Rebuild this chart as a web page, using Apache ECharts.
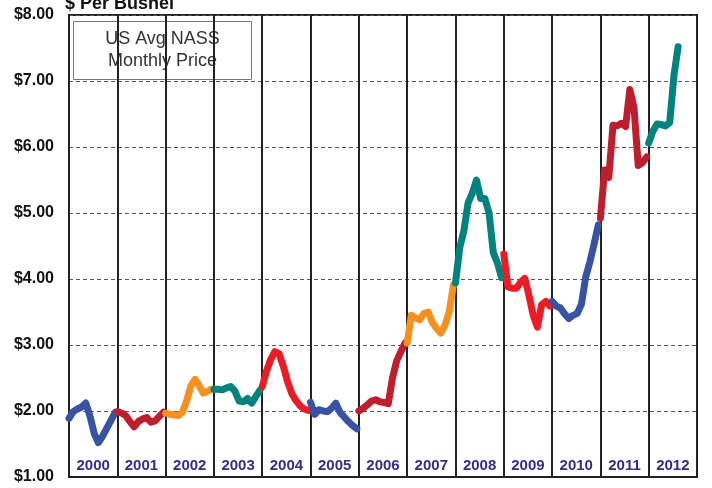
<!DOCTYPE html>
<html>
<head>
<meta charset="utf-8">
<title>US Avg NASS Monthly Price</title>
<script src="https://cdn.jsdelivr.net/npm/echarts@6/dist/echarts.min.js"></script>
<style>
  html, body { margin: 0; padding: 0; background: #fff; }
  #chart { width: 712px; height: 488px; }
</style>
</head>
<body>
<div id="chart"></div>
<script>
// years shown along the bottom, one column each
const years = ['2000', '2001', '2002', '2003', '2004', '2005', '2006',
  '2007', '2008', '2009', '2010', '2011', '2012'];

// monthly price, $ per bushel
const price2000 = [1.89, 1.99, 2.03, 2.06, 2.12, 1.92, 1.66, 1.52, 1.62, 1.74, 1.86, 1.98];
const price2001 = [1.99, 1.97, 1.93, 1.84, 1.76, 1.84, 1.88, 1.90, 1.83, 1.85, 1.92, 1.98];
const price2002 = [1.97, 1.95, 1.94, 1.93, 1.98, 2.15, 2.38, 2.48, 2.38, 2.27, 2.30, 2.33];
const price2003 = [2.33, 2.33, 2.32, 2.35, 2.37, 2.30, 2.15, 2.14, 2.19, 2.12, 2.22, 2.32];
const price2004 = [2.37, 2.60, 2.78, 2.90, 2.87, 2.68, 2.45, 2.27, 2.16, 2.08, 2.03, 2.01];
const price2005 = [2.13, 1.95, 2.02, 2.00, 1.99, 2.04, 2.12, 1.98, 1.91, 1.84, 1.78, 1.73];
const price2006 = [2.00, 2.04, 2.09, 2.15, 2.17, 2.14, 2.13, 2.11, 2.50, 2.76, 2.90, 3.03];
const price2007 = [3.03, 3.45, 3.41, 3.38, 3.48, 3.50, 3.34, 3.25, 3.18, 3.30, 3.50, 3.91];
const price2008 = [3.94, 4.47, 4.73, 5.15, 5.30, 5.50, 5.22, 5.22, 5.00, 4.40, 4.24, 4.02];
const price2009 = [4.38, 3.88, 3.86, 3.86, 3.95, 4.01, 3.75, 3.45, 3.27, 3.61, 3.66, 3.59];
const price2010 = [3.66, 3.59, 3.56, 3.47, 3.40, 3.45, 3.48, 3.62, 4.03, 4.26, 4.53, 4.82];
const price2011 = [4.92, 5.65, 5.54, 6.33, 6.32, 6.36, 6.31, 6.87, 6.60, 5.72, 5.76, 5.85];
const price2012 = [6.06, 6.24, 6.35, 6.34, 6.32, 6.37, 7.08, 7.52];

const yearPrices = [price2000, price2001, price2002, price2003, price2004, price2005, price2006,
  price2007, price2008, price2009, price2010, price2011, price2012];

const blue = '#3953a4';
const darkRed = '#be1e2d';
const orange = '#f7901e';
const teal = '#00827e';
const red = '#ed1c24';
const yearColors = [blue, darkRed, orange, teal, red, blue, darkRed, orange, teal, red, blue, darkRed, teal];

// month position inside a year column (12 months on the value axis per year)
const monthStep = 1.044;

const chart = echarts.init(document.getElementById('chart'));

const series = years.map((year, i) => ({
  name: year,
  type: 'line',
  xAxisIndex: 1,
  showSymbol: false,
  animation: false,
  data: yearPrices[i].map((p, m) => [i * 12 + m * monthStep, p]),
  lineStyle: { color: yearColors[i], width: 7, cap: 'round', join: 'round' },
  itemStyle: { color: yearColors[i] },
  z: 5,
}));

const option = {
  animation: false,
  grid: {
    left: 69,
    right: 15,
    top: 15,
    bottom: 11,
    show: true,
    borderColor: '#222',
    borderWidth: 2,
    backgroundColor: '#fff',
  },
  xAxis: [
    {
      type: 'category',
      data: years,
      boundaryGap: true,
      axisLine: { show: true, lineStyle: { color: '#222', width: 2 } },
      axisTick: { show: false },
      axisLabel: {
        inside: true,
        margin: 4,
        interval: 0,
        color: '#2e3186',
        fontFamily: 'Liberation Sans',
        fontWeight: 'bold',
        fontSize: 15,
      },
      splitLine: { show: true, interval: 0, lineStyle: { color: '#222', width: 2 } },
      z: 3,
    },
    {
      type: 'value',
      min: 0,
      max: 156,
      show: false,
    },
  ],
  yAxis: {
    type: 'value',
    min: 1,
    max: 8,
    interval: 1,
    axisLine: { show: false },
    axisTick: { show: false },
    axisLabel: {
      margin: 15,
      color: '#111',
      fontFamily: 'Liberation Sans',
      fontWeight: 'bold',
      fontSize: 16,
      formatter: (v) => '$' + v.toFixed(2),
    },
    splitLine: { show: true, lineStyle: { color: '#555', width: 1, type: [4, 3] } },
  },
  graphic: [
    {
      type: 'text',
      left: 65,
      top: -5,
      style: {
        text: '$ Per Bushel',
        fill: '#111',
        font: 'bold 18px "Liberation Sans"',
      },
    },
    {
      type: 'group',
      left: 73,
      top: 21,
      z: 10,
      children: [
        {
          type: 'rect',
          shape: { x: 0, y: 0, width: 178, height: 58 },
          style: { fill: '#fff', stroke: '#777', lineWidth: 1 },
        },
        {
          type: 'text',
          x: 89,
          y: 29,
          style: {
            text: 'US Avg NASS\nMonthly Price',
            fill: '#333',
            font: '18px "Liberation Sans"',
            align: 'center',
            verticalAlign: 'middle',
            lineHeight: 22,
          },
        },
      ],
    },
  ],
  series,
};

chart.setOption(option);
</script>
</body>
</html>
